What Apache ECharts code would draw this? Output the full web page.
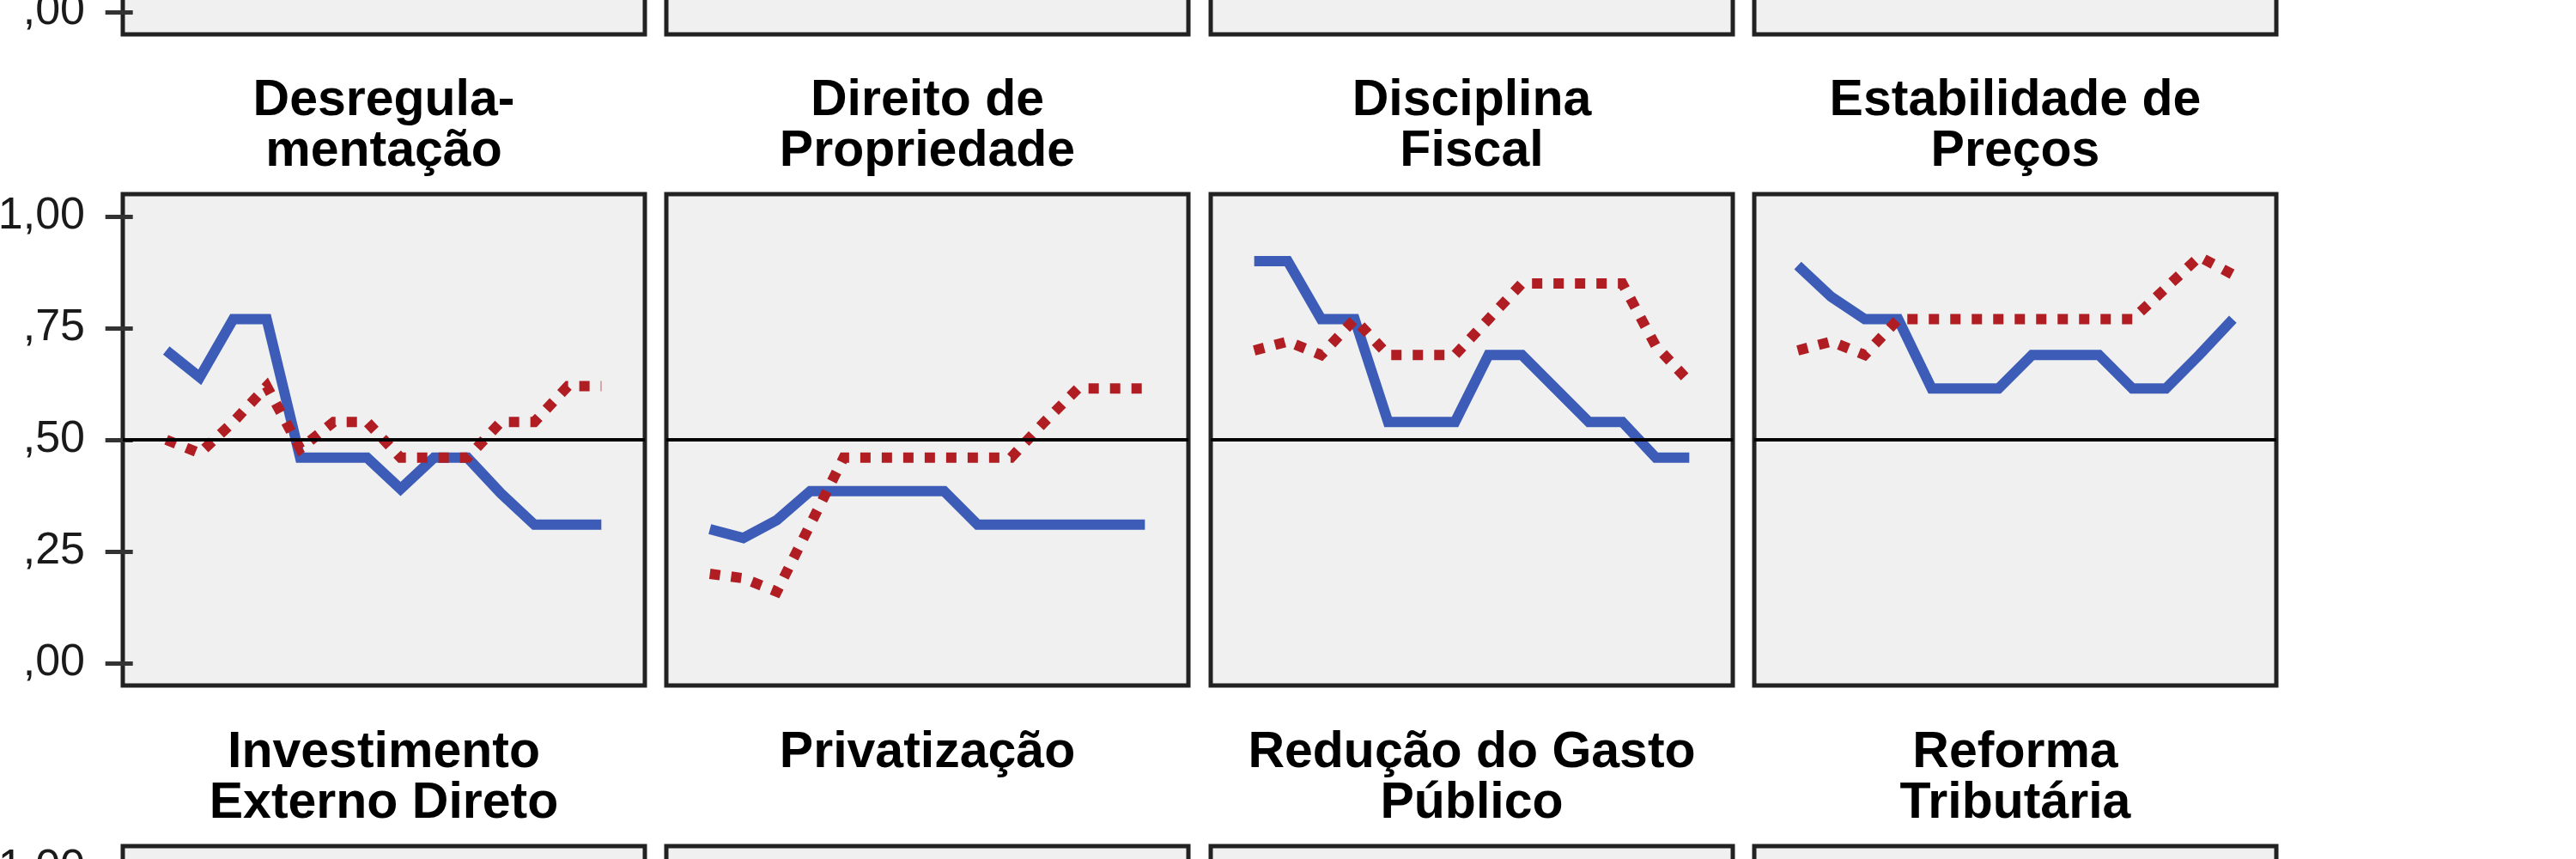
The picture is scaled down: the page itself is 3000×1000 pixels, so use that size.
<!DOCTYPE html>
<html>
<head>
<meta charset="utf-8">
<script src="https://cdn.jsdelivr.net/npm/echarts@6/dist/echarts.min.js"></script>
<style>
    html, body { margin: 0; padding: 0; background: #fff; }
    #chart { width: 3000px; height: 1000px; }
</style>
</head>
<body>
<div id="chart"></div>
<script>
// periodos no eixo x (14 pontos por painel)
var periods = [1, 2, 3, 4, 5, 6, 7, 8, 9, 10, 11, 12, 13, 14];
var yTicks = [0, 0.25, 0.5, 0.75, 1];
var refLevel = 0.5;

var titlesMiddle = ['Desregula-\nmentação', 'Direito de\nPropriedade', 'Disciplina\nFiscal', 'Estabilidade de\nPreços'];
var titlesBottom = ['Investimento\nExterno Direto', 'Privatização', 'Redução do Gasto\nPúblico', 'Reforma\nTributária'];

// linha azul (continua) e vermelha (pontilhada) de cada painel
var desregBlue = [0.70, 0.64, 0.77, 0.77, 0.46, 0.46, 0.46, 0.39, 0.46, 0.46, 0.38, 0.31, 0.31, 0.31];
var desregRed = [0.50, 0.47, 0.54, 0.62, 0.48, 0.54, 0.54, 0.46, 0.46, 0.46, 0.54, 0.54, 0.62, 0.62];

var direitoBlue = [0.30, 0.28, 0.32, 0.385, 0.385, 0.385, 0.385, 0.385, 0.31, 0.31, 0.31, 0.31, 0.31, 0.31];
var direitoRed = [0.20, 0.19, 0.16, 0.31, 0.46, 0.46, 0.46, 0.46, 0.46, 0.46, 0.54, 0.615, 0.615, 0.615];

var disciplinaBlue = [0.90, 0.90, 0.77, 0.77, 0.54, 0.54, 0.54, 0.69, 0.69, 0.615, 0.54, 0.54, 0.46, 0.46];
var disciplinaRed = [0.70, 0.72, 0.69, 0.77, 0.69, 0.69, 0.69, 0.77, 0.85, 0.85, 0.85, 0.85, 0.71, 0.63];

var estabBlue = [0.89, 0.82, 0.77, 0.77, 0.615, 0.615, 0.615, 0.69, 0.69, 0.69, 0.615, 0.615, 0.69, 0.77];
var estabRed = [0.70, 0.72, 0.69, 0.77, 0.77, 0.77, 0.77, 0.77, 0.77, 0.77, 0.77, 0.84, 0.91, 0.87];

var middleBlue = [desregBlue, direitoBlue, disciplinaBlue, estabBlue];
var middleRed = [desregRed, direitoRed, disciplinaRed, estabRed];

window.onload = function () {
    render_panels();
}


function to_points(values) {
    var ret = [];
    for (var i = 0; i < values.length; i++) {
        ret.push([periods[i], values[i]]);
    }
    return ret;
}


function tick_label(v) {
    // 1 -> "1,00", 0.75 -> ",75"
    return v.toFixed(2).replace('.', ',').replace(/^0/, '');
}


function render_panels() {
    var fontFamily = "'Liberation Sans', Arial, sans-serif";
    var colLeft = [143, 776, 1410, 2043];
    var panelW = 608;
    var panelH = 572;
    var rowTop = [-532, 226, 985];

    var grids = [], xAxes = [], yAxes = [], series = [], titles = [];

    for (var r = 0; r < rowTop.length; r++) {
        for (var c = 0; c < colLeft.length; c++) {
            var idx = grids.length;
            grids.push({
                left: colLeft[c], top: rowTop[r], width: panelW, height: panelH,
                outerBoundsMode: 'none', containLabel: false,
                show: true, backgroundColor: '#f0f0f0',
                borderColor: '#222', borderWidth: 5
            });
            xAxes.push({
                type: 'value', gridIndex: idx, show: false,
                min: periods[0] - 1.3, max: periods[periods.length - 1] + 1.3
            });
            yAxes.push({
                type: 'value', gridIndex: idx, show: c == 0,
                min: -0.05, max: 1.05,
                splitLine: {show: false},
                axisLine: {show: false},
                axisTick: {show: true, length: 32, customValues: yTicks,
                    lineStyle: {color: '#333', width: 5}},
                axisLabel: {customValues: yTicks, formatter: tick_label, margin: 44,
                    fontSize: 52, color: '#1a1a1a', fontFamily: fontFamily}
            });

            if (r == 1) {
                // linha de referencia em ,50
                series.push({
                    type: 'line', xAxisIndex: idx, yAxisIndex: idx, data: [], z: 2,
                    markLine: {
                        silent: true, symbol: 'none', animation: false,
                        label: {show: false},
                        lineStyle: {color: '#000', width: 4, type: 'solid'},
                        data: [{yAxis: refLevel}]
                    }
                });
                series.push({
                    name: 'azul', type: 'line', xAxisIndex: idx, yAxisIndex: idx, z: 3,
                    showSymbol: false, data: to_points(middleBlue[c]),
                    lineStyle: {color: '#3d5cb8', width: 12, cap: 'butt', join: 'miter'}
                });
                series.push({
                    name: 'vermelho', type: 'line', xAxisIndex: idx, yAxisIndex: idx, z: 4,
                    showSymbol: false, data: to_points(middleRed[c]),
                    lineStyle: {color: '#b01e24', width: 12, type: [12, 13], cap: 'butt', join: 'miter'}
                });
            }
        }
    }

    var titleRows = [[titlesMiddle, 88], [titlesBottom, 847]];
    for (var t = 0; t < titleRows.length; t++) {
        for (var c = 0; c < colLeft.length; c++) {
            titles.push({
                text: titleRows[t][0][c],
                left: colLeft[c] + panelW / 2, top: titleRows[t][1],
                textAlign: 'center', padding: 0,
                textStyle: {fontSize: 59, fontWeight: 'bold', lineHeight: 59,
                    color: '#000', fontFamily: fontFamily}
            });
        }
    }

    var myChart = echarts.init(document.getElementById('chart'));
    var option = {
        animation: false,
        backgroundColor: '#fff',
        title: titles,
        grid: grids,
        xAxis: xAxes,
        yAxis: yAxes,
        series: series
    };
    myChart.setOption(option);
}
</script>
</body>
</html>
